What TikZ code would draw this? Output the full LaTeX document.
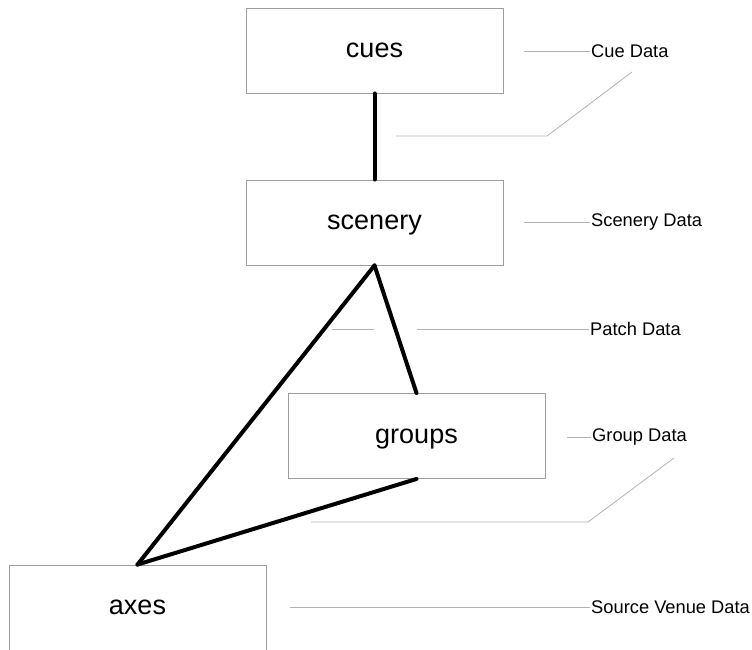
\documentclass[tikz,border=0pt]{standalone}
\usepackage{fontspec}
\setmainfont{Liberation Sans}
\usetikzlibrary{positioning}

\tikzset{
  box/.style={draw=black!38, line width=0.9pt, minimum width=257pt, minimum height=85pt, inner sep=0pt, text height=14pt, text depth=0pt, font=\fontsize{27}{30}\selectfont},
  lbl/.style={anchor=west, inner sep=1pt, font=\fontsize{18.3}{21}\selectfont},
  link/.style={line width=4pt, line cap=round},
  lead/.style={draw=black!30, line width=0.8pt}
}

\begin{document}
\begin{tikzpicture}[x=1pt,y=-1pt]
\useasboundingbox (0,0) rectangle (752,649);

% boxes
\node[box] (cues) at (374.5,50.5) {cues};
\node[box] (scenery) at (374.5,222.5) {scenery};
\node[box] (groups) at (416.5,436) {groups};
\node[box] (axes) at (137.5,607.5) {axes};

% links
\draw[link] (cues.south) -- (scenery.north);
\draw[link] (scenery.south) -- (groups.north);
\draw[link] (scenery.south) -- (axes.north);
\draw[link] (groups.south) -- (axes.north);

% labels
\node[lbl] (cueData) at (590,51) {Cue Data};
\node[lbl] (sceneryData) at (590,222) {Scenery Data};
\node[lbl] (patchData) at (589,329) {Patch Data};
\node[lbl] (groupData) at (591,437) {Group Data};
\node[lbl] (venueData) at (590,607) {Source Venue Data};

\coordinate (c1) at (524,51);
\draw[lead] (c1) -- (cueData.west);
\coordinate (c2) at (396,136);
\coordinate (c3) at (547,136);
\coordinate (c4) at (632,72);
\draw[lead] (c2) -- (c3) -- (c4);

\coordinate (s1) at (524,222);
\draw[lead] (s1) -- (sceneryData.west);

\coordinate (p1) at (332,329);
\coordinate (p2) at (374,329);
\coordinate (p3) at (417,329);
\draw[lead] (p1) -- (p2);
\draw[lead] (p3) -- (patchData.west);

\coordinate (g1) at (567,437);
\draw[lead] (g1) -- (groupData.west);
\coordinate (g2) at (311,522);
\coordinate (g3) at (588,522);
\coordinate (g4) at (674,458);
\draw[lead] (g2) -- (g3) -- (g4);

\coordinate (v1) at (290,607);
\draw[lead] (v1) -- (venueData.west);
\end{tikzpicture}
\end{document}
